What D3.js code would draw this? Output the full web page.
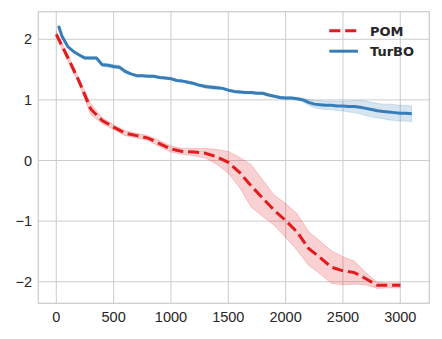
<!DOCTYPE html>
<html>
<head>
<meta charset="utf-8">
<script src="https://cdn.jsdelivr.net/npm/d3@7"></script>
<style>
  body { margin: 0; background: #fff; }
  svg { display: block; }
</style>
</head>
<body>
<script>
const width = 442,
    height = 339;

// POM, every 100 iterations
const pomIter = d3.range(0, 3001, 100);
const pomMean = [2.08, 1.70, 1.30, 0.85, 0.66, 0.55, 0.45, 0.41, 0.37, 0.28,
  0.19, 0.15, 0.14, 0.12, 0.06, -0.03, -0.20, -0.42, -0.62, -0.82,
  -0.99, -1.18, -1.45, -1.60, -1.76, -1.82, -1.85, -1.95, -2.06, -2.06, -2.06];
const pomStd = [0.05, 0.05, 0.05, 0.09, 0.05, 0.04, 0.04, 0.04, 0.04, 0.05,
  0.05, 0.05, 0.06, 0.08, 0.12, 0.18, 0.25, 0.35, 0.30, 0.25,
  0.28, 0.30, 0.28, 0.27, 0.27, 0.23, 0.19, 0.10, 0.05, 0.04, 0.04];

// TurBO, every 50 iterations
const turboIter = [20].concat(d3.range(50, 3101, 50));
const turboMean = [2.22, 2.05, 1.88, 1.80, 1.74, 1.69, 1.69, 1.69, 1.58, 1.57,
  1.55, 1.54, 1.47, 1.43, 1.40, 1.40, 1.39, 1.39, 1.37, 1.36,
  1.35, 1.32, 1.31, 1.29, 1.27, 1.24, 1.22, 1.21, 1.20, 1.19,
  1.16, 1.14, 1.13, 1.12, 1.12, 1.11, 1.11, 1.08, 1.06, 1.04,
  1.03, 1.03, 1.02, 1.00, 0.96, 0.93, 0.92, 0.91, 0.91, 0.90,
  0.90, 0.89, 0.89, 0.88, 0.86, 0.84, 0.82, 0.81, 0.80, 0.79,
  0.78, 0.78, 0.77];
const turboStd = [0.02, 0.02, 0.02, 0.02, 0.02, 0.02, 0.02, 0.02, 0.03, 0.03,
  0.03, 0.03, 0.03, 0.02, 0.02, 0.02, 0.02, 0.02, 0.02, 0.02,
  0.02, 0.02, 0.02, 0.02, 0.02, 0.02, 0.03, 0.03, 0.03, 0.02,
  0.02, 0.02, 0.02, 0.02, 0.02, 0.02, 0.02, 0.02, 0.02, 0.02,
  0.02, 0.02, 0.02, 0.03, 0.05, 0.06, 0.065, 0.07, 0.07, 0.075,
  0.08, 0.09, 0.10, 0.11, 0.12, 0.12, 0.12, 0.12, 0.13, 0.13,
  0.13, 0.13, 0.13];

const xTicks = [0, 500, 1000, 1500, 2000, 2500, 3000];
const yTicks = [-2, -1, 0, 1, 2];

const seriesNames = ["POM", "TurBO"];
const seriesColors = ["#e41a1c", "#377eb8"];

const svg = d3.select('body').append('svg')
    .attr('width', width)
    .attr('height', height);

const plot = { left: 38.3, right: 429.3, top: 11.7, bottom: 303.3 };

const x = d3.scaleLinear().domain([-157, 3253]).range([plot.left, plot.right]);
const y = d3.scaleLinear().domain([-2.356, 2.455]).range([plot.bottom, plot.top]);

// grid
const grid = svg.append("g").attr("class", "grid");
grid.selectAll(".vx").data(xTicks).enter().append("line")
    .attr("x1", d => x(d)).attr("x2", d => x(d))
    .attr("y1", plot.top).attr("y2", plot.bottom)
    .attr("stroke", "#cccccc").attr("stroke-width", 1);
grid.selectAll(".hy").data(yTicks).enter().append("line")
    .attr("y1", d => y(d)).attr("y2", d => y(d))
    .attr("x1", plot.left).attr("x2", plot.right)
    .attr("stroke", "#cccccc").attr("stroke-width", 1);

const pom = pomIter.map((t, i) => ({ t: t, m: pomMean[i], s: pomStd[i] }));
const turbo = turboIter.map((t, i) => ({ t: t, m: turboMean[i], s: turboStd[i] }));

const area = d3.area()
    .x(d => x(d.t))
    .y0(d => y(d.m - d.s))
    .y1(d => y(d.m + d.s));
const line = d3.line()
    .x(d => x(d.t))
    .y(d => y(d.m));

// bands
svg.append("path").datum(pom)
    .attr("d", area)
    .attr("fill", seriesColors[0]).attr("fill-opacity", 0.2)
    .attr("stroke", seriesColors[0]).attr("stroke-opacity", 0.2).attr("stroke-width", 1);
svg.append("path").datum(turbo)
    .attr("d", area)
    .attr("fill", seriesColors[1]).attr("fill-opacity", 0.2)
    .attr("stroke", seriesColors[1]).attr("stroke-opacity", 0.2).attr("stroke-width", 1);

// lines
svg.append("path").datum(pom)
    .attr("d", line)
    .attr("fill", "none")
    .attr("stroke", seriesColors[0]).attr("stroke-width", 3)
    .attr("stroke-dasharray", "11.1,4.8");
svg.append("path").datum(turbo)
    .attr("d", line)
    .attr("fill", "none")
    .attr("stroke", seriesColors[1]).attr("stroke-width", 3)
    .attr("stroke-linejoin", "round");

// frame
svg.append("rect")
    .attr("x", plot.left).attr("y", plot.top)
    .attr("width", plot.right - plot.left).attr("height", plot.bottom - plot.top)
    .attr("fill", "none").attr("stroke", "#cccccc").attr("stroke-width", 1.25);

// tick labels
const fmt = d => d < 0 ? "\u2212" + Math.abs(d) : String(d);
svg.append("g").selectAll("text").data(xTicks).enter().append("text")
    .attr("x", d => x(d)).attr("y", 322)
    .attr("text-anchor", "middle")
    .attr("font-family", "'Liberation Sans', Arial, sans-serif")
    .attr("font-size", 14.5).attr("fill", "#262626")
    .text(fmt);
svg.append("g").selectAll("text").data(yTicks).enter().append("text")
    .attr("x", 32).attr("y", d => y(d) + 5)
    .attr("text-anchor", "end")
    .attr("font-family", "'Liberation Sans', Arial, sans-serif")
    .attr("font-size", 14.5).attr("fill", "#262626")
    .text(fmt);

// legend
const legend = svg.append("g").attr("class", "legend");
seriesNames.forEach((name, i) => {
  const ly = 30.7 + i * 20.5;
  legend.append("line")
      .attr("x1", 329.3).attr("x2", 358).attr("y1", ly).attr("y2", ly)
      .attr("stroke", seriesColors[i]).attr("stroke-width", 3)
      .attr("stroke-dasharray", i === 0 ? "11.1,4.8" : null);
  legend.append("text")
      .attr("x", 370).attr("y", ly + 4.8)
      .attr("font-family", "'DejaVu Sans', sans-serif")
      .attr("font-weight", "bold")
      .attr("font-size", 13).attr("fill", "#262626")
      .text(name);
});
</script>
</body>
</html>
